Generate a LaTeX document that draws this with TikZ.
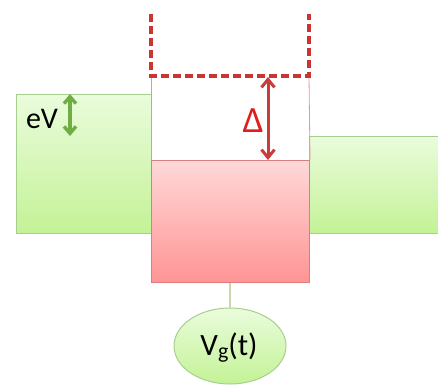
\documentclass[tikz,border=0pt]{standalone}
\usepackage{fontspec}
\setmainfont{Carlito}
\usetikzlibrary{arrows.meta,shapes.geometric}
\definecolor{leadedge}{HTML}{A6CF8E}
\definecolor{leadtop}{HTML}{EAFCDC}
\definecolor{leadbot}{HTML}{C4F296}
\definecolor{dotedge}{HTML}{D88080}
\definecolor{dottop}{HTML}{FFD8D8}
\definecolor{dotbot}{HTML}{FF9494}
\definecolor{gapred}{HTML}{CC3333}
\definecolor{arrred}{HTML}{C83C3C}
\definecolor{txtred}{HTML}{E01E1E}
\definecolor{arrgreen}{HTML}{6FAE45}
\definecolor{gateline}{HTML}{C9D8AC}
\tikzset{
  lead/.style={draw=leadedge, line width=1pt, top color=leadtop, bottom color=leadbot},
  dotbox/.style={draw=dotedge, line width=1pt, top color=dottop, bottom color=dotbot},
  gapline/.style={draw=gapred, line width=3.4pt, dash pattern=on 8pt off 4pt},
  wall/.style={draw=dotedge!80, line width=0.8pt},
  gapArrow/.style={draw=arrred, line width=3pt, {Straight Barb[length=8pt,width=13pt]}-{Straight Barb[length=8pt,width=13pt]}},
  biasArrow/.style={draw=arrgreen, line width=3.4pt, {Straight Barb[length=7pt,width=12pt]}-{Straight Barb[length=7pt,width=12pt]}},
  gatebox/.style={ellipse, draw=leadedge, line width=1pt, top color=leadtop, bottom color=leadbot, minimum width=112pt, minimum height=76pt, inner sep=0pt},
}
\begin{document}
\begin{tikzpicture}[x=1pt,y=-1pt]
\useasboundingbox (0,0) rectangle (438,384);
% leads
\path[lead] (16,94) rectangle (151,233);
\path[lead] (309,136) rectangle (440,233);
% dot level
\node[dotbox, minimum width=158pt, minimum height=122pt, inner sep=0pt, anchor=north west] (dot) at (151,160) {};
% walls of the well
\draw[wall] (151,76) -- (dot.north west);
\draw[wall] (309,76) -- (dot.north east);
% gapped level (dashed)
\draw[gapline] (151,14) -- (151,76) -- (309,76) -- (309,14);
% gap arrow
\coordinate (gtop) at (268,77);
\coordinate (gbot) at (268,160);
\draw[gapArrow] (gtop) -- (gbot);
\node[text=txtred, font=\fontsize{37}{40}\selectfont] (delta) at (253,121) {Δ};
% bias arrow
\coordinate (btop) at (70,94);
\coordinate (bbot) at (70,136);
\draw[biasArrow] (btop) -- (bbot);
\node[font=\fontsize{30}{34}\selectfont] (ev) at (42,119) {eV};
% gate
\node[gatebox] (gate) at (230,346) {};
\node[font=\fontsize{31}{34}\selectfont] (gtext) at (229,348) {V\raisebox{-0.2ex}{\fontsize{22}{24}\selectfont g}(t)};
\draw[draw=gateline, line width=1.2pt] (dot.south -| gate.north) -- (gate.north);
\end{tikzpicture}
\end{document}
